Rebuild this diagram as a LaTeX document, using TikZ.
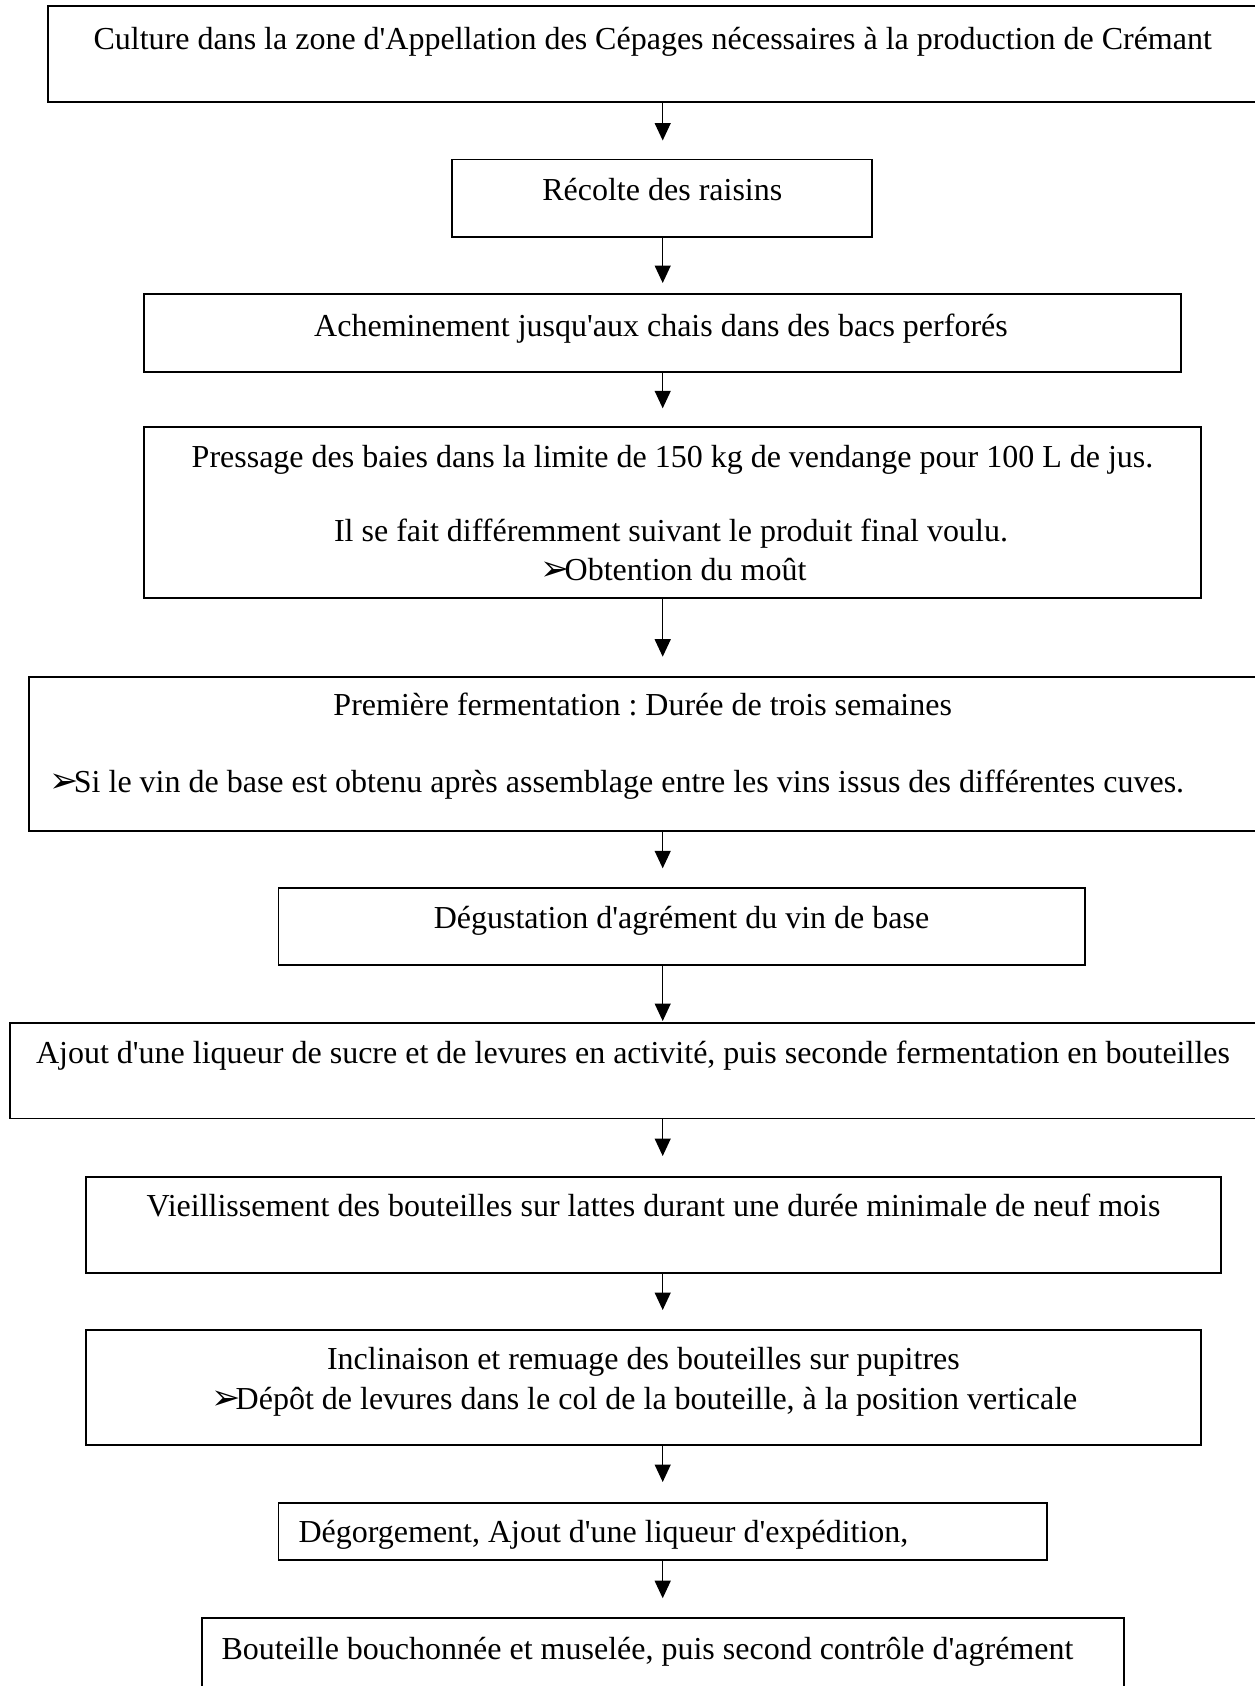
\documentclass[tikz,border=0pt]{standalone}
\usepackage{fontspec}
\setmainfont{Liberation Serif}[Ligatures=TeXOff]
\newfontfamily\dejavu{DejaVu Sans}
\usetikzlibrary{arrows.meta}
\newcommand{\arrbullet}{{\fontsize{35}{35}\selectfont\dejavu ➢}\kern-5pt}
\frenchspacing
\begin{document}
\begin{tikzpicture}[x=1pt,y=-1pt,
  box/.style={draw, line width=1.9pt, rectangle, inner sep=0pt, outer sep=0pt, anchor=north west},
  txt/.style={inner sep=0pt, outer sep=0pt, anchor=base, font=\fontsize{32}{39}\selectfont},
  txtw/.style={txt, anchor=base west},
  arr/.style={line width=1.3pt, -{Triangle[length=17.5pt,width=16pt]}}
]
\useasboundingbox (0,0) rectangle (1255,1686);
\clip (0,0) rectangle (1255,1686);
\fill[white] (0,0) rectangle (1255,1686);
\coordinate (ax) at (662.7,0);

% boxes
\node[box, minimum width=1217pt, minimum height=95.7pt] (b1) at (48,6) {};
\node[box, minimum width=420.4pt, minimum height=77.2pt] (b2) at (452,159.5) {};
\node[box, minimum width=1037.1pt, minimum height=77.7pt] (b3) at (144.2,294) {};
\node[box, minimum width=1057pt, minimum height=171.6pt] (b4) at (144.2,426.7) {};
\node[box, minimum width=1236.2pt, minimum height=154.1pt] (b5) at (28.8,676.7) {};
\node[box, minimum width=806.8pt, minimum height=76.7pt] (b6) at (278.5,888.3) {};
\node[box, minimum width=1255.4pt, minimum height=95.5pt] (b7) at (9.6,1023) {};
\node[box, minimum width=1134.2pt, minimum height=96.1pt] (b8) at (86.4,1176.6) {};
\node[box, minimum width=1114.2pt, minimum height=114.8pt] (b9) at (86.4,1329.8) {};
\node[box, minimum width=768.4pt, minimum height=57.5pt] (b10) at (278.5,1502.9) {};
\node[box, minimum width=922pt, minimum height=100pt] (b11) at (201.7,1617.6) {};

% texts
\node[txt] (t1) at (652.7,49.3) {Culture dans la zone d'Appellation des Cépages nécessaires à la production de Crémant};
\node[txt] (t2) at (662.3,200) {Récolte des raisins};
\node[txt] (t3) at (661,336) {Acheminement jusqu'aux chais dans des bacs perforés};
\node[txt] (t4a) at (672.5,467.3) {Pressage des baies dans la limite de 150 kg de vendange pour 100 L de jus.};
\node[txt] (t4b) at (671,541) {Il se fait différemment suivant le produit final voulu.};
\node[txt] (t4c) at (673.4,580) {\arrbullet Obtention du moût};
\node[txt] (t5a) at (642.7,715.7) {Première fermentation : Durée de trois semaines};
\node[txtw] (t5b) at (49.6,792.7) {\arrbullet Si le vin de base est obtenu après assemblage entre les vins issus des différentes cuves.};
\node[txt] (t6) at (681.5,928.3) {Dégustation d'agrément du vin de base};
\node[txt] (t7) at (633,1063.3) {Ajout d'une liqueur de sucre et de levures en activité, puis seconde fermentation en bouteilles};
\node[txt] (t8) at (653.5,1216.6) {Vieillissement des bouteilles sur lattes durant une durée minimale de neuf mois};
\node[txt] (t9a) at (643.4,1369) {Inclinaison et remuage des bouteilles sur pupitres};
\node[txt] (t9b) at (644.3,1409.4) {\arrbullet Dépôt de levures dans le col de la bouteille, à la position verticale};
\node[txtw] (t10) at (298.5,1542.9) {Dégorgement, Ajout d'une liqueur d'expédition,};
\node[txt] (t11) at (647.5,1659.5) {Bouteille bouchonnée et muselée, puis second contrôle d'agrément};

% arrows
\draw[arr, shorten >=19pt] (ax |- b1.south) -- (ax |- b2.north);
\draw[arr, shorten >=11pt] (ax |- b2.south) -- (ax |- b3.north);
\draw[arr, shorten >=18.4pt] (ax |- b3.south) -- (ax |- b4.north);
\draw[arr, shorten >=20pt] (ax |- b4.south) -- (ax |- b5.north);
\draw[arr, shorten >=20pt] (ax |- b5.south) -- (ax |- b6.north);
\draw[arr, shorten >=2pt] (ax |- b6.south) -- (ax |- b7.north);
\draw[arr, shorten >=20.6pt] (ax |- b7.south) -- (ax |- b8.north);
\draw[arr, shorten >=19.8pt] (ax |- b8.south) -- (ax |- b9.north);
\draw[arr, shorten >=20.9pt] (ax |- b9.south) -- (ax |- b10.north);
\draw[arr, shorten >=19.4pt] (ax |- b10.south) -- (ax |- b11.north);
\end{tikzpicture}
\end{document}
